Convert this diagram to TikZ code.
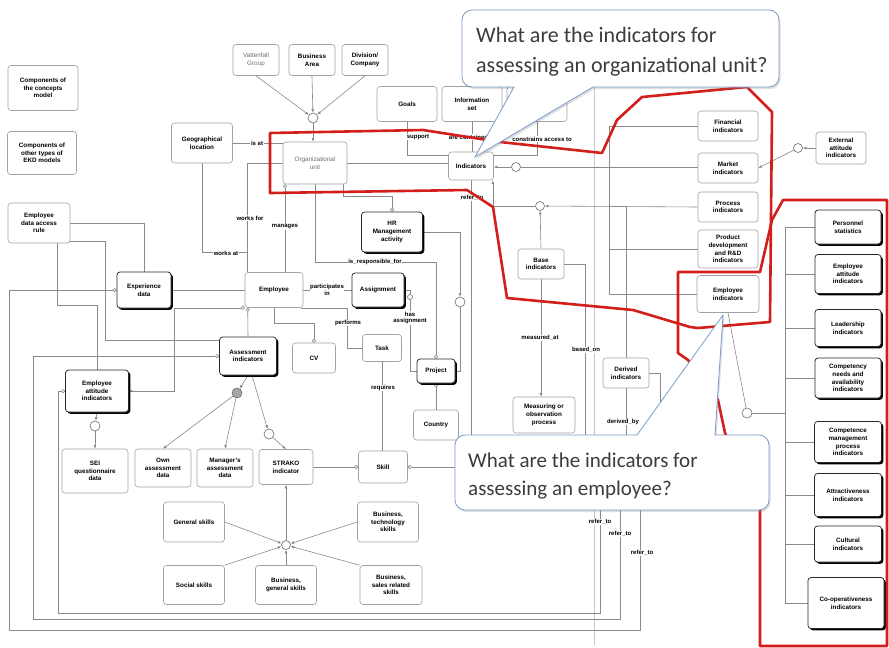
\documentclass[tikz,border=0pt]{standalone}
\usepackage{fontspec}
\setmainfont{Liberation Sans}
\newfontfamily\calloutfont{Carlito}
\usetikzlibrary{arrows.meta,shadows,calc}
\pgfdeclarelayer{bg}
\pgfdeclarelayer{fg}
\pgfsetlayers{bg,main,fg}
\definecolor{linegray}{HTML}{8A8A8A}
\definecolor{boxgray}{HTML}{A2A2A2}
\definecolor{markred}{HTML}{D21F1B}
\definecolor{calloutblue}{HTML}{7B9CCB}
\definecolor{callouttext}{HTML}{3C3C3C}

\begin{document}
\begin{tikzpicture}[x=1pt,y=-1pt,
  sz/.style 2 args={minimum width=#1pt, minimum height=#2pt},
  ent/.style={draw=boxgray, fill=white, rounded corners=3pt, align=center, inner sep=1pt,
    line width=0.6pt, font=\fontsize{6.3}{7.7}\selectfont\bfseries},
  sent/.style={ent, draw=black!85, line width=0.75pt,
    drop shadow={shadow xshift=1.8pt, shadow yshift=-1.8pt, fill=black, opacity=1}},
  pale/.style={ent, font=\fontsize{6.3}{7.7}\selectfont, text=gray!85!black},
  jn/.style={circle, draw=linegray!80!black, fill=white, inner sep=0pt, minimum size=9pt, line width=0.6pt},
  conn/.style={draw=linegray, line width=0.6pt},
  arr/.style={conn, -{Latex[length=3.6pt,width=3pt]}},
  ostart/.style={{Circle[open,length=4pt,width=4pt]}-},
  oend/.style={-{Circle[open,length=4pt,width=4pt]}},
  oarr/.style={conn, {Circle[open,length=4pt,width=4pt]}-{Latex[length=3.6pt,width=3pt]}},
  lbl/.style={fill=white, inner sep=0.6pt, align=center, font=\fontsize{6}{6.6}\selectfont\bfseries},
  redmark/.style={draw=markred, line width=2.6pt, line join=round},
  callout/.style={draw=calloutblue, fill=white, line width=0.8pt,
    drop shadow={opacity=0.25, shadow xshift=1.5pt, shadow yshift=-2pt}},
  qtext/.style={anchor=west, align=left, text=callouttext, inner sep=0pt}
]
\begin{pgfonlayer}{bg}
  \fill[white] (0,0) rectangle (889,648);
\end{pgfonlayer}
\useasboundingbox (0,0) rectangle (889,648);

% ---------- legend ----------
\node[ent,sz={70}{45}] (leg1) at (43,88) {Components of\\the concepts\\model};
\node[ent,sz={69}{43}] (leg2) at (42,153) {Components of\\other types of\\EKD models};

% ---------- organisation part ----------
\node[pale,sz={46}{31}] (vatt) at (256,60) {Vattenfall\\Group};
\node[ent,sz={46}{31}] (barea) at (312,60) {Business\\Area};
\node[ent,sz={46}{31}] (divco) at (365,60) {Division/\\Company};
\node[jn,minimum size=10pt] (jorg) at (313,118) {};
\node[pale,sz={64}{42}] (orgu) at (315,163) {Organizational\\unit};
\node[ent,sz={61}{40}] (geo) at (202,143) {Geographical\\location};
\node[ent,sz={60}{35}] (goals) at (407,104) {Goals};
\node[ent,sz={60}{35}] (infoset) at (472,104) {Information\\set};
\node[ent,sz={60}{35}] (role) at (537,104) {Role};
\node[ent,sz={45}{28}] (ind) at (471,166) {Indicators};
\node[jn] (jind) at (516,167) {};
\node[jn] (jbase) at (540,206) {};
\node[sent,sz={61}{40}] (hr) at (392,232) {HR\\Management\\activity};
\node[ent,sz={58}{35}] (emp) at (274,290) {Employee};
\node[sent,sz={52}{34}] (assign) at (378,290) {Assignment};
\node[jn,minimum size=5pt] (mha) at (410,297) {};
\node[ent,sz={43}{30}] (cv) at (314,358) {CV};
\node[ent,sz={39}{27}] (task) at (382,348) {Task};
\node[sent,sz={38}{24}] (proj) at (436,371) {Project};
\node[jn,minimum size=10pt] (jproj) at (460,302) {};
\node[ent,sz={45}{30}] (country) at (436,425) {Country};

% ---------- employee assessment part ----------
\node[ent,sz={62}{40}] (access) at (39,223) {Employee\\data access\\rule};
\node[sent,sz={54}{36}] (exper) at (144,290) {Experience\\data};
\node[sent,sz={57}{38}] (assess) at (248,356) {Assessment\\indicators};
\node[sent,sz={63}{42}] (eattl) at (97,391) {Employee\\attitude\\indicators};
\node[jn,minimum size=10pt] (jsei) at (95,426) {};
\node[ent,sz={66}{44}] (sei) at (95,471) {SEI\\questionnaire\\data};
\node[ent,sz={56}{38}] (own) at (163,468) {Own\\assessment\\data};
\node[ent,sz={56}{38}] (mgr) at (225,468) {Manager's\\assessment\\data};
\node[circle, draw=gray!60!black, fill=gray!70, inner sep=0pt, minimum size=10pt] (jgrey) at (237,393) {};
\node[jn,minimum size=10pt] (jstrako) at (269,434) {};
\node[ent,sz={54}{35}] (strako) at (286,467) {STRAKO\\indicator};
\node[ent,sz={49}{32}] (skill) at (383,467) {Skill};
\node[ent,sz={61}{40}] (gen) at (194,522) {General skills};
\node[ent,sz={61}{39}] (soc) at (194,585) {Social skills};
\node[ent,sz={61}{39}] (bgen) at (286,585) {Business,\\general skills};
\node[ent,sz={61}{40}] (btech) at (388,522) {Business,\\technology\\skills};
\node[ent,sz={62}{39}] (bsales) at (391,585) {Business,\\sales related\\skills};
\node[jn] (jskills) at (286,545) {};

% ---------- indicator part ----------
\node[ent,sz={46}{30}] (base) at (541,264) {Base\\indicators};
\node[ent,sz={62}{36}] (meas) at (544,415) {Measuring or\\observation\\process};
\node[ent,sz={46}{30}] (derived) at (626,373) {Derived\\indicators};
\node[ent,sz={60}{30}] (fin) at (728,126) {Financial\\indicators};
\node[ent,sz={60}{30}] (market) at (728,168) {Market\\indicators};
\node[ent,sz={60}{30}] (process) at (728,207) {Process\\indicators};
\node[ent,sz={60}{38}] (prod) at (728,249) {Product\\development\\and R\&D\\indicators};
\node[ent,sz={62}{37}] (empind) at (728,294) {Employee\\indicators};
\node[ent,sz={50}{32}] (extatt) at (841,148) {External\\attitude\\indicators};
\node[jn] (jext) at (798,148) {};
\node[jn,minimum size=10pt] (jemp) at (747,413) {};
\node[sent,sz={66}{34}] (pers) at (848,227) {Personnel\\statistics};
\node[sent,sz={66}{39}] (eattr) at (848,274) {Employee\\attitude\\indicators};
\node[sent,sz={66}{37}] (lead) at (848,328) {Leadership\\indicators};
\node[sent,sz={66}{40}] (compn) at (848,378) {Competency\\needs and\\availability\\indicators};
\node[sent,sz={67}{41}] (compm) at (848,442) {Competence\\management\\process\\indicators};
\node[sent,sz={67}{43}] (attr) at (848,495) {Attractiveness\\indicators};
\node[sent,sz={67}{36}] (cult) at (848,544) {Cultural\\indicators};
\node[sent,sz={76}{51}] (coop) at (846,603) {Co-operativeness\\indicators};

% free ends of connectors running under the lower callout
\coordinate (bon) at (585,440);
\coordinate (dre) at (660,440);
\coordinate (dby) at (626,440);
\coordinate (rf1) at (600,440);
\coordinate (rf2) at (620,440);
\coordinate (rf3) at (640,440);
\coordinate (rtop) at (785,227);
\coordinate (rbot) at (785,603);
\coordinate (dv1) at (594,88);
\coordinate (dv2) at (594,645);

% ---------- connectors ----------
\begin{pgfonlayer}{bg}
  \draw[draw=gray!45, line width=0.6pt] (dv1) -- (dv2);
  % organisational hierarchy
  \draw[arr] (vatt.south) -- (jorg);
  \draw[arr] (barea.south) -- (jorg);
  \draw[arr] (divco.south) -- (jorg);
  \draw[arr] (jorg) -- (jorg |- orgu.north);
  \draw[conn] (geo.east) -- (geo.east -| orgu.west);
  \draw[conn] (orgu.west) -| ($(emp.north west)+(3,0)$);
  \draw[conn] (geo.south) |- ($(emp.north west)+(3,-20)$);
  \draw[conn,ostart] ($(orgu.south)+(-30,0)$) -- ($(emp.north)+(11,0)$);
  \draw[conn,oend] (orgu.south) -- ++(0,78) -| (proj.north);
  \draw[conn,oend] ($(orgu.south east)+(-4,0)$) -- ++(0,12) -| (hr.north);
  \draw[arr] (hr.east) -| (jproj);
  \draw[conn] (jproj) |- (proj.east);
  \draw[conn] (emp.east) -- (assign.west);
  \draw[conn] (assign.east) -| (mha);
  \draw[conn] (mha) |- (proj.west);
  \draw[conn] ($(emp.south east)+(-2,0)$) -- ++(46,0) |- (task.west);
  \draw[conn,oend] (emp.south) -- ++(0,15) -| (cv.north);
  \draw[conn] (task.south) -- (task.south |- skill.north);
  \draw[conn,ostart] (proj.south) -- (proj.south |- country.north);
  \draw[conn,ostart] (skill.east) -| (ind.south);
  \draw[conn,oend] (strako.east) -- (skill.west);
  % assessment data
  \draw[arr] (assess.south) -- (jgrey);
  \draw[arr] (jgrey) -- (own.north);
  \draw[arr] (jgrey) -- (mgr.north);
  \draw[arr] ($(assess.south)+(4,0)$) -- (jstrako);
  \draw[arr] (jstrako) -- (strako.north);
  \draw[arr] (eattl.south) -- (jsei);
  \draw[arr] (jsei) -- (sei.north);
  \draw[arr] (gen.east) -- (jskills);
  \draw[arr] (soc.north east) -- (jskills);
  \draw[arr] (bgen.north) -- (jskills);
  \draw[arr] (btech.west) -- (jskills);
  \draw[arr] (bsales.north west) -- (jskills);
  \draw[arr] (jskills) -- (strako.south);
  % indicators
  \draw[conn] (goals.south) |- ($(ind.north west)+(0,4)$);
  \draw[conn] (infoset.south) -- (infoset.south |- ind.north);
  \draw[conn] (role.south) |- ($(ind.north east)+(0,4)$);
  \draw[conn] (orgu.east) -- (orgu.east -| ind.west);
  \draw[arr] (jind) -- (jind -| ind.east);
  \draw[conn] (jind) -- (jind -| market.west);
  \draw[conn] (fin.west) -- ++(-88,0) |- (empind.west);
  \draw[conn] (prod.west) -- ++(-88,0);
  \draw[arr] (process.west) -- (jbase);
  \draw[arr] (jbase) -| ($(ind.south east)+(-1,0)$);
  \draw[arr] (base.north) -- (jbase);
  \draw[conn] (derived.north) -- (derived.north |- jbase);
  \draw[arr] (base.south) -- (base.south |- meas.north);
  \draw[conn] (base.east) -| (bon);
  \draw[conn] (derived.east) -| (dre);
  \draw[conn] (derived.south) -- (dby);
  \draw[arr] (extatt.west) -- (jext);
  \draw[arr] (jext) -- (market.east);
  \draw[conn] (empind.south) -- (jemp);
  \draw[conn] (jemp) -- (jemp -| rtop);
  \draw[conn] (rtop) -- (rbot);
  \foreach \n in {pers,eattr,lead,compn,compm,attr,cult,coop}
    \draw[conn] (\n.west) -- (\n.west -| rtop);
  % employee data
  \draw[conn] (access.east) -| (exper.north);
  \draw[conn] ($(access.south east)+(0,-2)$) -- ++(35,0) |- ($(assess.north west)+(0,4)$);
  \draw[conn] ($(access.south)+(18,0)$) -- ++(0,62) -| (eattl.north);
  \draw[conn] (emp.west) -- (exper.east);
  \draw[oarr] (emp.south west) -- ++(-70,0) |- (eattl.east);
  \draw[conn,ostart] ($(emp.south west)+(3,0)$) -- (assess.north);
  % refer_to buses along the left and bottom
  \draw[conn,ostart] (exper.west) -- ++(-107,0) -- ++(0,340) -| (rf3);
  \draw[conn,ostart] (assess.west) -- ++(-186,0) -- ++(0,263) -| (rf2);
  \draw[conn,ostart] (eattl.west) -- ++(-7,0) -- ++(0,222) -| (rf1);
\end{pgfonlayer}

% ---------- connector labels ----------
\node[lbl] (tisat) at (257,143) {is at};
\node[lbl] (tworksfor) at (250,218) {works for};
\node[lbl] (tmanages) at (285,227) {manages};
\node[lbl] (tworksat) at (226,253) {works at};
\node[lbl] (tresp) at (375,262) {is\_responsible\_for};
\node[lbl] (tpart) at (327,290) {participates\\in};
\node[lbl] (thas) at (410,318) {has\\assignment};
\node[lbl] (tperf) at (348,323) {performs};
\node[lbl] (treq) at (383,388) {requires};
\node[lbl] (tsupp) at (418,137) {support};
\node[lbl] (tcont) at (472,137) {are contained in};
\node[lbl] (tcons) at (542,139) {constrains access to};
\node[lbl] (trefer) at (472,198) {refer\_to};
\node[lbl] (tmeas) at (540,338) {measured\_at};
\node[lbl] (tbased) at (586,350) {based\_on};
\node[lbl] (tderiv) at (623,422) {derived\_by};
\node[lbl] (tref1) at (600,522) {refer\_to};
\node[lbl] (tref2) at (620,534) {refer\_to};
\node[lbl] (tref3) at (642,553) {refer\_to};

% ---------- hand-drawn highlights and callouts ----------
\begin{pgfonlayer}{fg}
  \draw[redmark] (270,133) -- (423,130) -- (500,142) -- (602,153) -- (617,120) -- (642,97)
    -- (747,87) -- (772,112) -- (770,322) -- (698,328) -- (690,327) -- (633,310)
    -- (507,298) -- (495,220) -- (493,207) -- (467,190) -- (270,193) -- cycle;
  \draw[redmark] (678,272) -- (760,272) -- (772,220) -- (783,200) -- (887,200)
    -- (887,646) -- (760,646) -- (760,510) -- (725,433) -- (718,400) -- (688,360)
    -- (678,353) -- cycle;

  \draw[callout] (514,87) [rounded corners=10pt] -- (462,87) -- (462,10) -- (779,10)
    -- (779,87) [sharp corners] -- (593,87) -- (475,157) -- cycle;
  \node[qtext, font=\calloutfont\fontsize{22}{30}\selectfont] (q1) at (476,52)
    {What are the indicators for\\assessing an organizational unit?};

  \draw[callout] (637,435) [rounded corners=10pt] -- (455,435) -- (455,510) -- (769,510)
    -- (769,435) [sharp corners] -- (715,435) -- (723,315) -- cycle;
  \node[qtext, font=\calloutfont\fontsize{21}{28}\selectfont] (q2) at (468,476)
    {What are the indicators for\\assessing an employee?};
\end{pgfonlayer}
\end{tikzpicture}
\end{document}
